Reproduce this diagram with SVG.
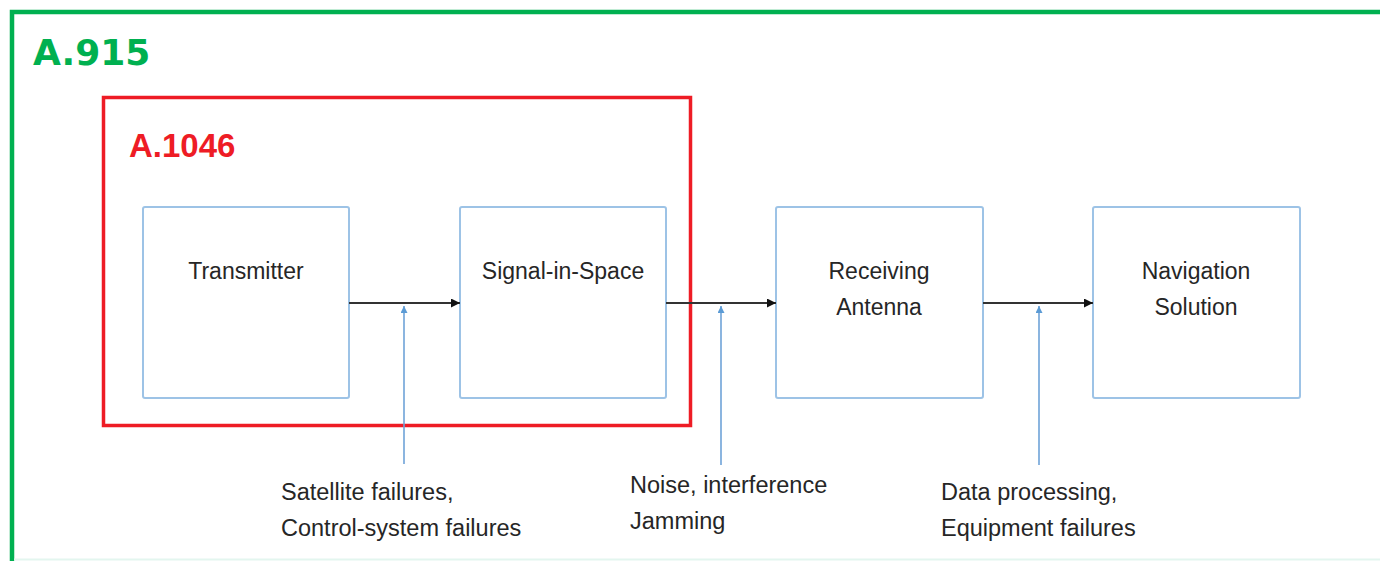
<svg xmlns="http://www.w3.org/2000/svg" width="1380" height="561" viewBox="0 0 1380 561">
<defs>
<style>
.box{fill:#fff;stroke:#9dc3e6;stroke-width:2}
.lbl{font-family:"Liberation Sans",Arial,sans-serif;font-size:23px;fill:#262626;text-anchor:middle}
.note{font-family:"Liberation Sans",Arial,sans-serif;font-size:23.5px;fill:#262626}
.flow{stroke:#333;stroke-width:1.8;fill:none;marker-end:url(#ah)}
.cause{stroke:#6fa3d8;stroke-width:1.6;fill:none;marker-end:url(#bh)}
</style>
<marker id="ah" viewBox="0 0 10 10" refX="10" refY="5" markerWidth="10" markerHeight="9" markerUnits="userSpaceOnUse" orient="auto"><path d="M0,0 L10,5 L0,10 z" fill="#111"/></marker>
<marker id="bh" viewBox="0 0 10 10" refX="10" refY="5" markerWidth="7" markerHeight="7" markerUnits="userSpaceOnUse" orient="auto"><path d="M0,0 L10,5 L0,10 z" fill="#5b9bd5"/></marker>
</defs>
<rect width="1380" height="561" fill="#fff"/>
<g id="frame-a915">
<path d="M12,561 L12,12 L1380,12" fill="none" stroke="#00b050" stroke-width="4.5"/>
<line x1="14" y1="559.5" x2="1380" y2="559.5" stroke="#e3f6ef" stroke-width="2"/>
<text x="33" y="65" font-family="'DejaVu Sans',sans-serif" font-weight="bold" font-size="36" fill="#00b050">A.915</text>
</g>
<g id="frame-a1046">
<rect x="103.5" y="97.5" width="587" height="328" fill="none" stroke="#ee1c25" stroke-width="3.5"/>
<text x="129" y="157" font-family="'Liberation Sans',Arial,sans-serif" font-weight="bold" font-size="33" fill="#ee1c25">A.1046</text>
</g>
<g id="transmitter">
<rect class="box" x="143" y="207" width="206" height="191" rx="2"/>
<text class="lbl" x="246" y="279">Transmitter</text>
</g>
<g id="signal-in-space">
<rect class="box" x="460" y="207" width="206" height="191" rx="2"/>
<text class="lbl" x="563" y="279">Signal-in-Space</text>
</g>
<g id="receiving-antenna">
<rect class="box" x="776" y="207" width="207" height="191" rx="2"/>
<text class="lbl" x="879" y="279">Receiving</text>
<text class="lbl" x="879" y="315">Antenna</text>
</g>
<g id="navigation-solution">
<rect class="box" x="1093" y="207" width="207" height="191" rx="2"/>
<text class="lbl" x="1196" y="279">Navigation</text>
<text class="lbl" x="1196" y="315">Solution</text>
</g>
<g id="connectors">
<line class="flow" x1="349" y1="303" x2="460" y2="303"/>
<line class="flow" x1="666" y1="303" x2="776" y2="303"/>
<line class="flow" x1="983" y1="303" x2="1093" y2="303"/>
<line class="cause" x1="404" y1="464" x2="404" y2="306"/>
<line class="cause" x1="721" y1="465" x2="721" y2="306"/>
<line class="cause" x1="1039" y1="465" x2="1039" y2="306"/>
</g>
<g id="labels">
<text class="note" x="281" y="500">Satellite failures,</text>
<text class="note" x="281" y="536">Control-system failures</text>
<text class="note" x="630" y="493">Noise, interference</text>
<text class="note" x="630" y="529">Jamming</text>
<text class="note" x="941" y="500">Data processing,</text>
<text class="note" x="941" y="536">Equipment failures</text>
</g>
</svg>
